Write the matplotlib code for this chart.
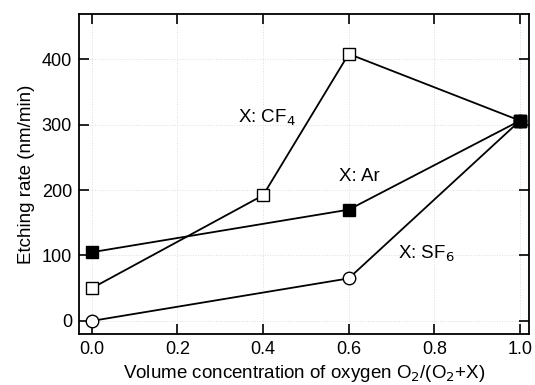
import matplotlib
matplotlib.use("Agg")
import matplotlib.pyplot as plt

plt.rcParams['font.family'] = ['Liberation Sans', 'DejaVu Sans']

# etching rate vs O2 fraction
x_cf4 = [0.0, 0.4, 0.6, 1.0]
y_cf4 = [50, 192, 408, 306]
x_ar = [0.0, 0.6, 1.0]
y_ar = [105, 170, 306]
x_sf6 = [0.0, 0.6, 1.0]
y_sf6 = [0, 65, 306]

fig = plt.figure(figsize=(5.35, 3.85), dpi=100)
ax = fig.add_axes([79/535, 1 - 334/385, 450/535, 320/385])

ax.plot(x_cf4, y_cf4, color='black', lw=1.3, marker='s', ms=8,
        mfc='white', mec='black', mew=1.0, zorder=3)
ax.plot(x_ar, y_ar, color='black', lw=1.3, marker='s', ms=8,
        mfc='black', mec='black', zorder=3)
ax.plot(x_sf6, y_sf6, color='black', lw=1.3, marker='o', ms=9,
        mfc='white', mec='black', mew=1.0, zorder=3)
# the last point is drawn filled (shared)
ax.plot([x_ar[-1]], [y_ar[-1]], 's', ms=8, color='black', zorder=4)

ax.text(0.341, 311, 'X: CF$_4$', fontsize=13.5, va='center')
ax.text(0.577, 220, 'X: Ar', fontsize=13.5, va='center')
ax.text(0.715, 103, 'X: SF$_6$', fontsize=13.5, va='center')

ax.set_xlim(-0.03, 1.021)
ax.set_ylim(-20, 469)
ax.set_xticks([0.0, 0.2, 0.4, 0.6, 0.8, 1.0])
ax.set_yticks([0, 100, 200, 300, 400])
ax.set_xticklabels(['0.0', '0.2', '0.4', '0.6', '0.8', '1.0'])
ax.tick_params(direction='in', length=7, width=1.2, top=True, right=True,
               labelsize=13, pad=5)
for s in ax.spines.values():
    s.set_linewidth(1.3)
ax.grid(True, ls=':', lw=0.7, color='#dddddd')

ax.set_xlabel('Volume concentration of oxygen O$_2$/(O$_2$+X)', fontsize=13.5, labelpad=4)
ax.set_ylabel('Etching rate (nm/min)', fontsize=13.5, labelpad=5)

fig.savefig('out.png', dpi=100)
